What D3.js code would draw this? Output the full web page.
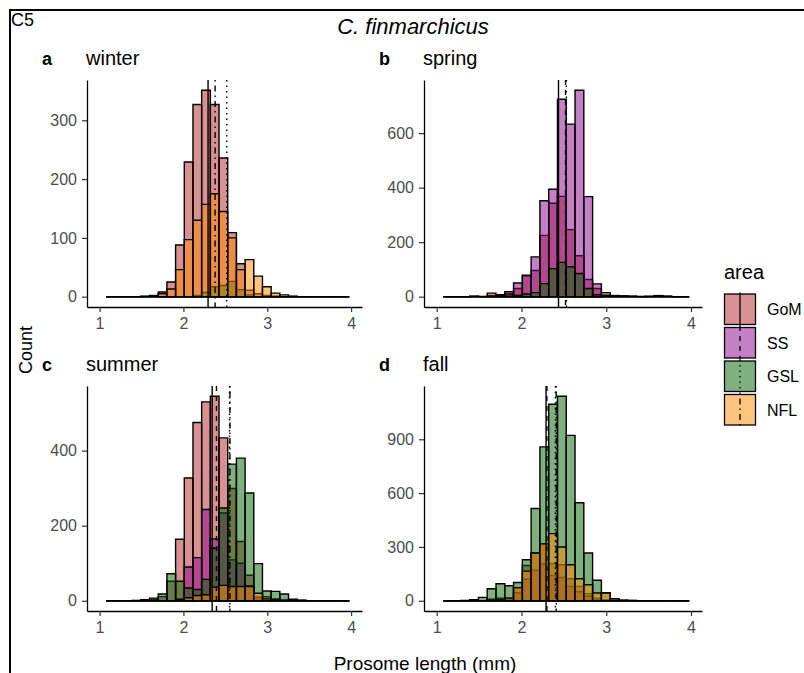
<!DOCTYPE html>
<html>
<head>
<meta charset="utf-8">
<script src="https://cdn.jsdelivr.net/npm/d3@7"></script>
<style>
  body { margin: 0; background: #fff; }
  text { font-family: "Liberation Sans", Arial, sans-serif; }
</style>
</head>
<body>
<div id="chart"></div>
<script>
// areas, fill colours and mean line types
const areas = ["GoM", "SS", "GSL", "NFL"];
const areaColors = ["#B22222", "#8B008B", "#006400", "#FF8C00"];
const areaDash = [null, "5,5", "1.5,4", "1.5,4,6,4"];

// histogram bins (prosome length, mm)
const binStart = 1.078, binWidth = 0.1036;

// counts per bin, one array per area and season
const winterGoM = [0,0,0,0,1,2,8,25,88,229,327,351,327,236,109,56,11,5,2,1,0,0,0,0,0,0,0,0];
const winterSS  = [0,0,0,0,0,0,0,0,0,0,0,0,0,0,0,0,0,0,0,0,0,0,0,0,0,0,0,0];
const winterGSL = [0,0,0,0,0,0,0,0,0,0,2,7,17,19,26,12,3,0,0,0,0,0,0,0,0,0,0,0];
const winterNFL = [0,0,0,0,0,1,5,13,46,97,130,157,175,145,100,46,63,35,17,6,3,1,0,0,0,0,0,0];

const springGoM = [0,0,0,2,1,13,7,18,30,77,96,225,343,368,246,150,63,30,15,4,2,1,1,0,3,1,0,0];
const springSS  = [0,0,0,1,0,3,4,10,50,79,146,352,394,724,633,757,367,47,5,4,3,2,0,2,4,2,0,0];
const springGSL = [0,0,0,0,0,0,0,2,5,10,15,48,103,126,110,85,30,7,2,0,0,0,0,0,0,0,0,0];
const springNFL = [0,0,0,0,0,0,0,0,0,0,0,0,0,0,0,0,0,0,0,0,0,0,0,0,0,0,0,0];

const summerGoM = [0,0,0,0,2,3,11,52,164,327,475,530,545,434,299,158,68,10,11,5,2,0,0,0,0,0,0,0];
const summerSS  = [0,0,0,0,0,0,0,0,5,90,115,243,165,234,109,100,40,8,2,0,0,0,0,0,0,0,0,0];
const summerGSL = [0,0,0,1,3,7,18,72,52,34,30,57,140,247,364,380,287,99,26,25,18,4,2,0,0,0,0,0];
const summerNFL = [0,0,0,0,0,0,0,0,3,8,14,16,36,41,38,38,38,20,5,3,1,0,0,0,0,0,0,0];

const fallGoM = [0,0,0,0,0,9,15,15,73,197,266,317,207,201,123,80,39,15,5,0,0,0,0,0,0,0,0,0];
const fallSS  = [0,0,0,0,0,4,8,8,45,120,170,205,140,130,80,50,25,9,3,0,0,0,0,0,0,0,0,0];
const fallGSL = [0,0,2,6,19,67,95,84,102,229,514,858,1095,1140,922,546,266,114,45,11,3,2,0,0,0,0,0,0];
const fallNFL = [0,0,0,0,0,3,5,15,73,165,266,317,374,300,201,123,89,43,43,11,3,1,0,0,0,0,0,0];

// mean prosome length per area (GoM, SS, GSL, NFL), null = area not sampled
const meanWinter = [2.294, null, 2.517, 2.378];
const meanSpring = [2.437, 2.52, 2.53, null];
const meanSummer = [2.343, 2.394, 2.55, 2.555];
const meanFall   = [2.29, 2.30, 2.40, 2.41];

// tick labels
const xTicks = [1, 2, 3, 4];
const winterTicks = [0, 100, 200, 300];
const springTicks = [0, 200, 400, 600];
const summerTicks = [0, 200, 400];
const fallTicks   = [0, 300, 600, 900];

const seasons = ["winter", "spring", "summer", "fall"];
const tags = ["a", "b", "c", "d"];

const svg = d3.select("#chart")
  .append("svg")
    .attr("width", 804)
    .attr("height", 673);

// outer frame of the figure
svg.append("rect")
  .attr("x", 10).attr("y", 10)
  .attr("width", 840).attr("height", 700)
  .attr("fill", "none")
  .attr("stroke", "#000")
  .attr("stroke-width", 2);

svg.append("text")
  .attr("x", 11).attr("y", 26)
  .style("font-size", "18px")
  .text("C5");

svg.append("text")
  .attr("x", 413).attr("y", 34)
  .attr("text-anchor", "middle")
  .style("font-size", "22px")
  .style("font-style", "italic")
  .text("C. finmarchicus");

// panel layout (2 x 2)
const cols = [[87, 362], [424, 702]];
const rows = [[80, 307], [386, 611]];

const panels = [
  {counts: [winterGoM, winterSS, winterGSL, winterNFL], means: meanWinter, ticks: winterTicks},
  {counts: [springGoM, springSS, springGSL, springNFL], means: meanSpring, ticks: springTicks},
  {counts: [summerGoM, summerSS, summerGSL, summerNFL], means: meanSummer, ticks: summerTicks},
  {counts: [fallGoM, fallSS, fallGSL, fallNFL], means: meanFall, ticks: fallTicks}
];

panels.forEach(function(p, i) {
  const c = cols[i % 2], r = rows[Math.floor(i / 2)];

  const x = d3.scaleLinear().domain([0.85, 4.13]).range(c);
  const top = d3.max(p.counts, d => d3.max(d));
  const y = d3.scaleLinear().domain([-0.05 * top, 1.05 * top]).range([r[1], r[0]]);

  const g = svg.append("g");

  // overlapping histograms, drawn in area order
  p.counts.forEach(function(cnt, a) {
    if (d3.sum(cnt) === 0) return;
    g.append("g")
      .selectAll("path")
      .data(cnt)
      .join("path")
        .attr("d", function(d, k) {
          const xa = x(binStart + k * binWidth), xb = x(binStart + (k + 1) * binWidth);
          return "M" + xa + "," + y(0) + "V" + y(d) + "H" + xb + "V" + y(0) + "Z";
        })
        .attr("fill", areaColors[a])
        .attr("fill-opacity", 0.5)
        .attr("stroke", "#000")
        .attr("stroke-width", 1.4);
  });

  // mean lines
  p.means.forEach(function(m, a) {
    if (m === null) return;
    g.append("line")
      .attr("x1", x(m)).attr("x2", x(m))
      .attr("y1", r[0]).attr("y2", r[1])
      .attr("stroke", "#000")
      .attr("stroke-width", 1.4)
      .attr("stroke-dasharray", areaDash[a]);
  });

  // axes
  const xa = g.append("g")
    .attr("transform", "translate(0," + r[1] + ")")
    .call(d3.axisBottom(x).tickValues(xTicks).tickFormat(d3.format("d"))
      .tickSize(5).tickPadding(6).tickSizeOuter(0));
  const ya = g.append("g")
    .attr("transform", "translate(" + c[0] + ",0)")
    .call(d3.axisLeft(y).tickValues(p.ticks).tickSize(5).tickPadding(5).tickSizeOuter(0));
  [xa, ya].forEach(function(ax) {
    ax.attr("font-family", null).attr("font-size", null);
    ax.select(".domain").attr("stroke", "#000").attr("stroke-width", 1.3);
    ax.selectAll(".tick line").attr("stroke", "#333").attr("stroke-width", 1.2);
    ax.selectAll(".tick text").attr("fill", "#4D4D4D").style("font-size", "16px");
  });

  // panel tag and season title
  g.append("text")
    .attr("x", c[0] - 45).attr("y", r[0] - 15)
    .style("font-size", "18px")
    .style("font-weight", "bold")
    .text(tags[i]);
  g.append("text")
    .attr("x", c[0] - 1).attr("y", r[0] - 15)
    .style("font-size", "20px")
    .text(seasons[i]);
});

// axis titles
svg.append("text")
  .attr("transform", "translate(32,350) rotate(-90)")
  .attr("text-anchor", "middle")
  .style("font-size", "18px")
  .text("Count");

svg.append("text")
  .attr("x", 425).attr("y", 670)
  .attr("text-anchor", "middle")
  .style("font-size", "19px")
  .text("Prosome length (mm)");

// legend
const legend = svg.append("g").attr("transform", "translate(724,260)");
legend.append("text")
  .attr("x", 0).attr("y", 19)
  .style("font-size", "20px")
  .text("area");

areas.forEach(function(a, i) {
  const ky = 34 + i * 33.5;
  legend.append("rect")
    .attr("x", 0.5).attr("y", ky)
    .attr("width", 31).attr("height", 30.5)
    .attr("fill", areaColors[i])
    .attr("fill-opacity", 0.5)
    .attr("stroke", "#000")
    .attr("stroke-width", 1.3);
  legend.append("line")
    .attr("x1", 16).attr("x2", 16)
    .attr("y1", ky - 1.5).attr("y2", ky + 32)
    .attr("stroke", "#000")
    .attr("stroke-width", 1.3)
    .attr("stroke-dasharray", areaDash[i]);
  legend.append("text")
    .attr("x", 43).attr("y", ky + 15.5)
    .attr("dy", "0.35em")
    .style("font-size", "16px")
    .text(a);
});
</script>
</body>
</html>
